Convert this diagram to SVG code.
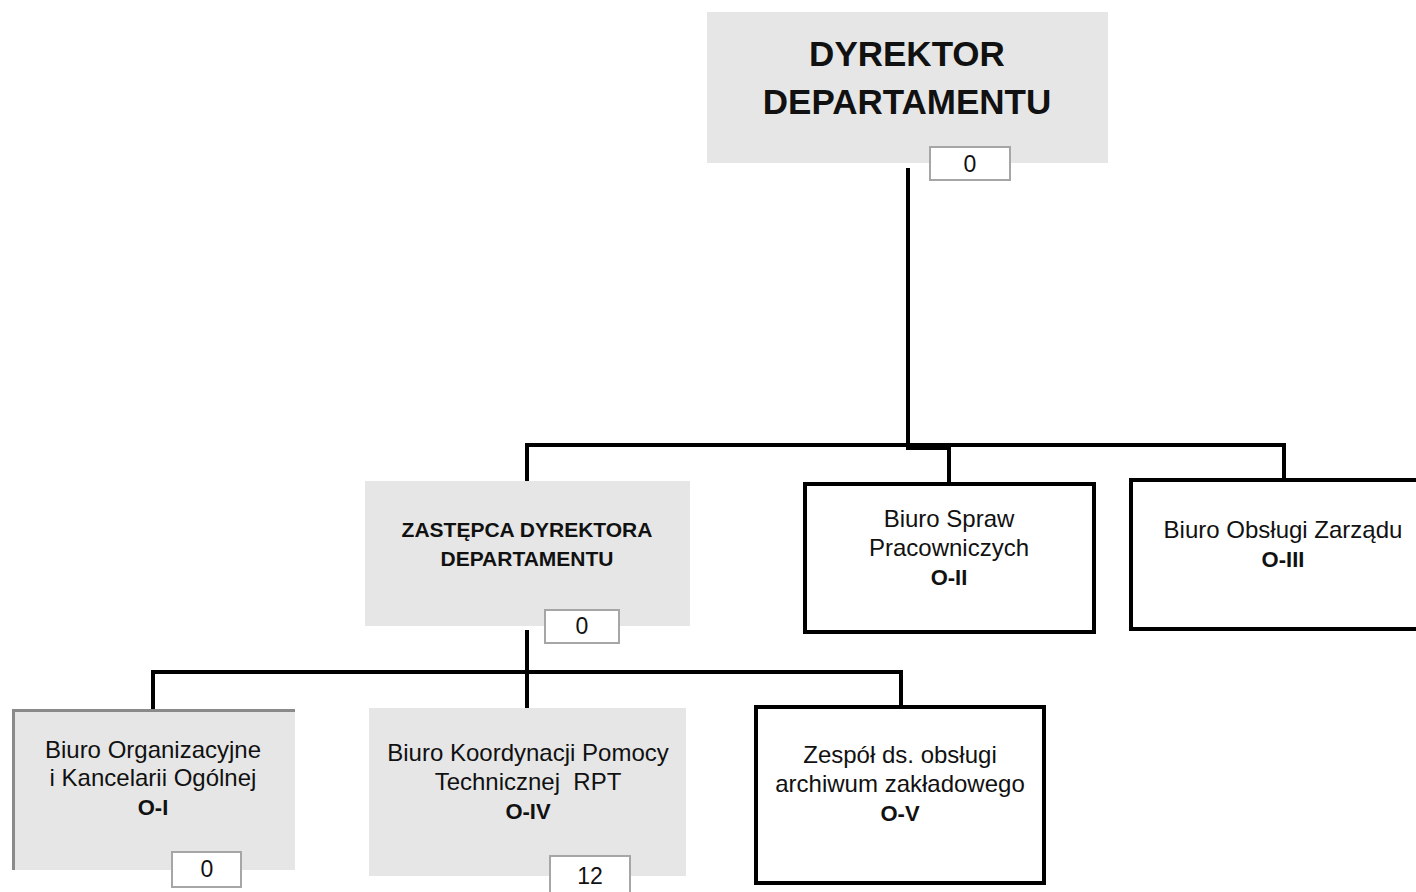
<svg xmlns="http://www.w3.org/2000/svg" width="1416" height="892" viewBox="0 0 1416 892">
<style>
.gray{fill:#e6e6e6;stroke:none}
.box{fill:#ffffff;stroke:#000000;stroke-width:4}
.cnt{fill:#ffffff;stroke:#a6a6a6;stroke-width:2}
.t{font-family:"Liberation Sans",Arial,sans-serif;font-size:24px;fill:#111;text-anchor:middle}
.n{font-family:"Liberation Sans",Arial,sans-serif;font-size:23px;fill:#111;text-anchor:middle}
.b{font-weight:bold;font-size:22px}
.big{font-family:"Liberation Sans",Arial,sans-serif;font-size:35px;font-weight:bold;fill:#111;text-anchor:middle}
.mid{font-family:"Liberation Sans",Arial,sans-serif;font-size:21px;font-weight:bold;fill:#111;text-anchor:middle}
.line{stroke:#000;stroke-width:4;fill:none}
</style>
<rect width="1416" height="892" fill="#ffffff"/>
<g id="connectors">
<line class="line" x1="908" y1="168" x2="908" y2="447"/>
<line class="line" x1="527" y1="445" x2="1284" y2="445"/>
<line class="line" x1="906" y1="448" x2="949" y2="448"/>
<line class="line" x1="527" y1="443" x2="527" y2="482"/>
<line class="line" x1="949" y1="445" x2="949" y2="484"/>
<line class="line" x1="1284" y1="443" x2="1284" y2="479"/>
<line class="line" x1="527" y1="630" x2="527" y2="708"/>
<line class="line" x1="153" y1="672" x2="901" y2="672"/>
<line class="line" x1="153" y1="670" x2="153" y2="709"/>
<line class="line" x1="901" y1="670" x2="901" y2="707"/>
</g>
<g id="dyrektor">
<rect class="gray" x="707" y="12" width="401" height="151"/>
<text class="big" x="907" y="66">DYREKTOR</text>
<text class="big" x="907" y="114">DEPARTAMENTU</text>
<rect class="cnt" x="930" y="147" width="80" height="33"/>
<text class="n" x="970" y="172">0</text>
</g>
<g id="zastepca">
<rect class="gray" x="365" y="481" width="325" height="145"/>
<text class="mid" x="527" y="537">ZASTĘPCA DYREKTORA</text>
<text class="mid" x="527" y="566">DEPARTAMENTU</text>
<rect class="cnt" x="545" y="610" width="74" height="33"/>
<text class="n" x="582" y="634">0</text>
</g>
<g id="o2">
<rect class="box" x="805" y="484" width="289" height="148"/>
<text class="t" x="949" y="527">Biuro Spraw</text>
<text class="t" x="949" y="556">Pracowniczych</text>
<text class="t b" x="949" y="585">O-II</text>
</g>
<g id="o3">
<rect class="box" x="1131" y="480" width="295" height="149"/>
<text class="t" x="1283" y="538">Biuro Obsługi Zarządu</text>
<text class="t b" x="1283" y="567">O-III</text>
</g>
<g id="o1">
<rect class="gray" x="12" y="709" width="283" height="161"/>
<path d="M13.5 870 V710.5 H295" fill="none" stroke="#8a8a8a" stroke-width="3"/>
<text class="t" x="153" y="758">Biuro Organizacyjne</text>
<text class="t" x="153" y="786">i Kancelarii Ogólnej</text>
<text class="t b" x="153" y="815">O-I</text>
<rect class="cnt" x="172" y="852" width="69" height="35"/>
<text class="n" x="207" y="877">0</text>
</g>
<g id="o4">
<rect class="gray" x="369" y="708" width="317" height="168"/>
<text class="t" x="528" y="761">Biuro Koordynacji Pomocy</text>
<text class="t" x="528" y="790" xml:space="preserve">Technicznej  RPT</text>
<text class="t b" x="528" y="819">O-IV</text>
<rect class="cnt" x="550" y="856" width="80" height="40"/>
<text class="n" x="590" y="884">12</text>
</g>
<g id="o5">
<rect class="box" x="756" y="707" width="288" height="176"/>
<text class="t" x="900" y="763">Zespół ds. obsługi</text>
<text class="t" x="900" y="792">archiwum zakładowego</text>
<text class="t b" x="900" y="821">O-V</text>
</g>
</svg>
